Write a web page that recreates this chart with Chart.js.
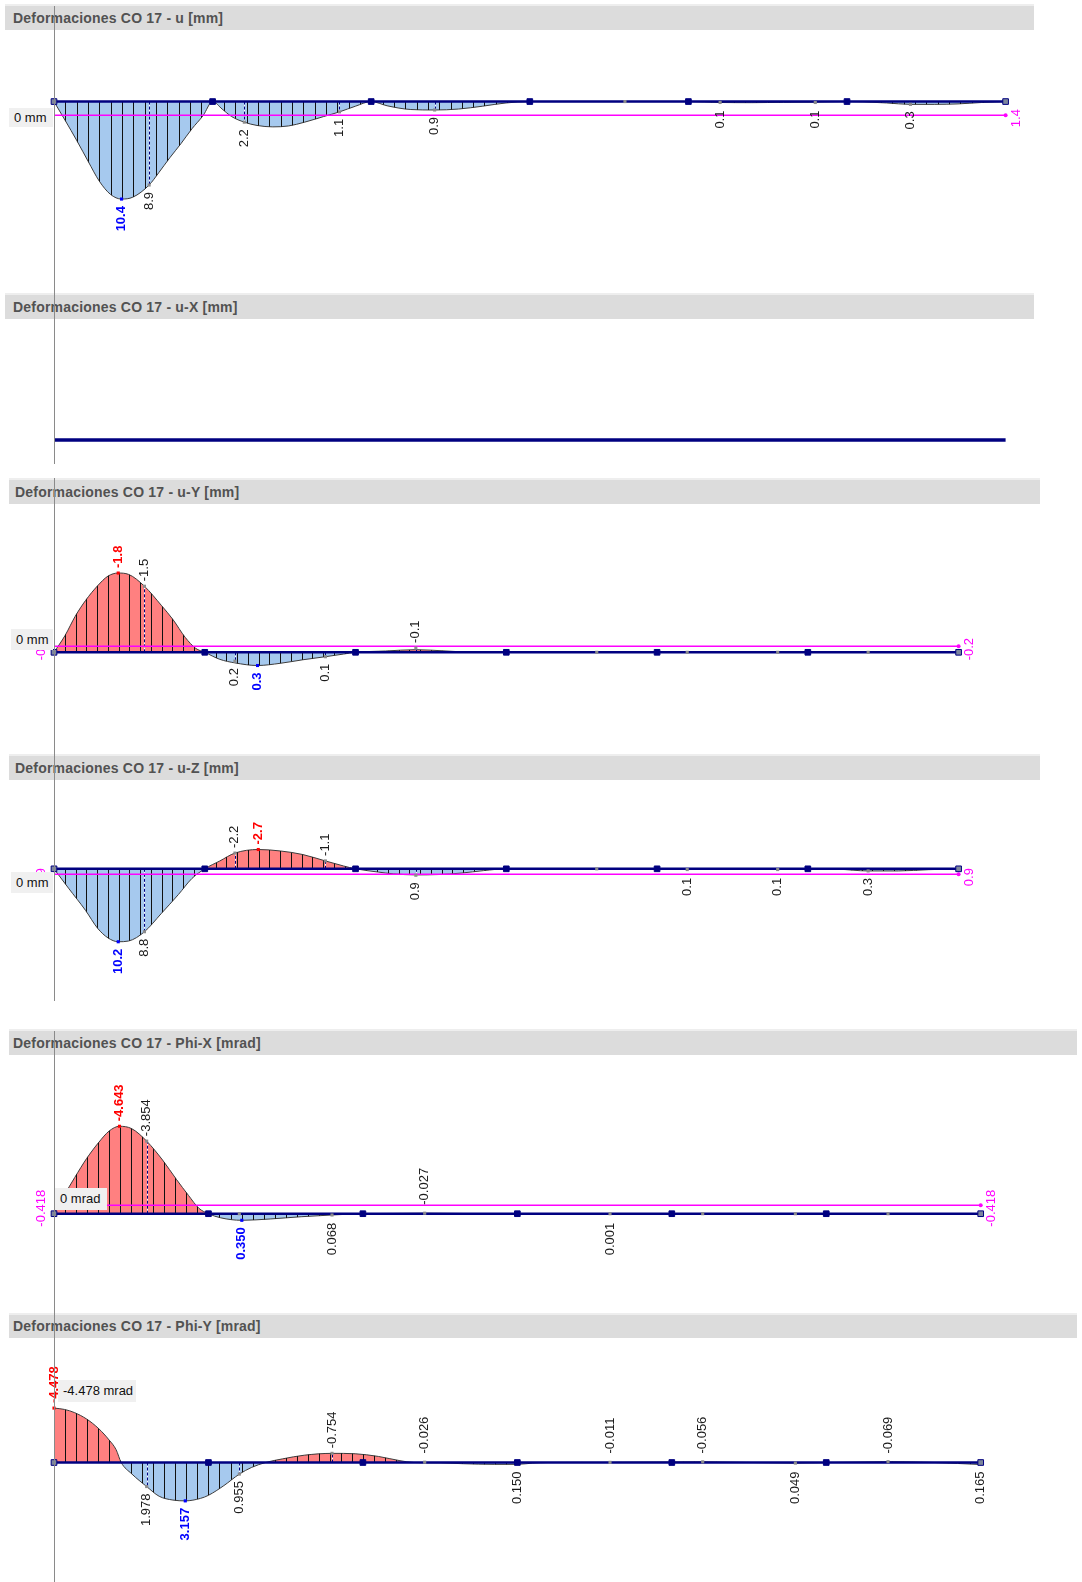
<!DOCTYPE html>
<html>
<head>
<meta charset="utf-8">
<title>Deformaciones CO 17</title>
<script src="https://cdn.jsdelivr.net/npm/chart.js@4.4.1/dist/chart.umd.min.js"></script>
<style>
  html, body { margin: 0; padding: 0; background: #fff; }
  #page { position: relative; width: 1082px; height: 1582px; overflow: hidden; font-family: "Liberation Sans", Arial, sans-serif; }
  .hdr { position: absolute; height: 24px; line-height: 24px; background: #dcdcdc; box-shadow: 0 -2px 0 #eeeeee; color: #525252; font-weight: bold; font-size: 14px; letter-spacing: 0.2px; box-sizing: border-box; white-space: nowrap; }
  .plot { position: absolute; left: 0; }
  .zero { position: absolute; background: #f0f0f0; color: #111; font-size: 13px; padding-left: 5px; box-sizing: border-box; white-space: nowrap; }
  .vline { position: absolute; left: 54px; width: 1px; background: #8a8a8a; }
</style>
</head>
<body>
<div id="page"></div>
<script>
// member nodes and result points (in span units along the beam)
const nodePos = [0, 1, 2, 3, 4, 5, 6];
const resultPos = [0.6, 1.2, 1.8, 2.4, 3.6, 4.2, 4.8, 5.4];

const titles = [
  'Deformaciones CO 17 - u [mm]',
  'Deformaciones CO 17 - u-X [mm]',
  'Deformaciones CO 17 - u-Y [mm]',
  'Deformaciones CO 17 - u-Z [mm]',
  'Deformaciones CO 17 - Phi-X [mrad]',
  'Deformaciones CO 17 - Phi-Y [mrad]'
];
const zeroTexts = ['0 mm', '', '0 mm', '0 mm', '0 mrad', '-4.478 mrad'];
const decimals = [1, 1, 1, 1, 3, 3];

// u [mm]
const uPos = [0, 0.07, 0.145, 0.216, 0.286, 0.356, 0.426, 0.497, 0.6, 0.66, 0.73, 0.8, 0.87, 0.94, 1,
  1.06, 1.12, 1.2, 1.28, 1.38, 1.48, 1.58, 1.7, 1.8, 1.9, 2,
  2.1, 2.25, 2.4, 2.55, 2.7, 2.85, 3,
  4, 4.2, 4.4, 4.6, 4.8, 5,
  5.1, 5.25, 5.4, 5.55, 5.7, 5.85, 6];
const uVal = [0, 2.0, 4.2, 6.4, 8.5, 9.9, 10.4, 10.2, 8.9, 7.6, 6.0, 4.5, 2.9, 1.5, 0,
  0.8, 1.6, 2.2, 2.55, 2.7, 2.6, 2.2, 1.6, 1.1, 0.5, 0,
  0.45, 0.85, 0.9, 0.8, 0.5, 0.15, 0,
  0, 0.1, 0.12, 0.08, 0.06, 0,
  0.03, 0.15, 0.3, 0.3, 0.25, 0.1, 0];
const uLabelPos = [0.426, 0.6, 1.2, 1.8, 2.4, 4.2, 4.8, 5.4];
const uLabelVal = [10.4, 8.9, 2.2, 1.1, 0.9, 0.1, 0.1, 0.3];
const uEnd = 1.4;          // printed end value
const uEndLine = 1.45;     // where the magenta line sits

// u-Y [mm]
const uyPos = [0, 0.073, 0.141, 0.21, 0.289, 0.358, 0.426, 0.494, 0.6, 0.711, 0.79, 0.87, 0.94, 1,
  1.1, 1.2, 1.35, 1.5, 1.65, 1.8, 1.92, 2,
  2.2, 2.4, 2.6, 2.8, 3, 6];
const uyVal = [0, -0.38, -0.82, -1.18, -1.51, -1.73, -1.8, -1.77, -1.5, -1.07, -0.74, -0.34, -0.09, 0,
  0.16, 0.24, 0.3, 0.25, 0.17, 0.1, 0.04, 0,
  -0.03, -0.06, -0.03, 0, 0, 0];
const uyLabelPos = [0.426, 0.6, 1.2, 1.35, 1.8, 2.4];
const uyLabelVal = [-1.8, -1.5, 0.2, 0.3, 0.1, -0.1];
const uyEnd = -0.2;
const uyEndLine = -0.14;

// u-Z [mm]
const uzPos = [0, 0.096, 0.21, 0.289, 0.358, 0.426, 0.494, 0.6, 0.71, 0.825, 0.915, 1,
  1.1, 1.2, 1.355, 1.5, 1.65, 1.8, 1.92, 2,
  2.15, 2.25, 2.4, 2.55, 2.7, 2.85, 3,
  3.6, 4, 4.2, 4.5, 4.8, 5,
  5.2, 5.4, 5.6, 5.8, 6];
const uzVal = [0, 2.7, 5.84, 8.31, 9.66, 10.2, 10.1, 8.8, 6.29, 3.6, 1.35, 0,
  -1.1, -2.2, -2.7, -2.5, -2.0, -1.1, -0.4, 0,
  0.45, 0.7, 0.85, 0.8, 0.6, 0.25, 0,
  0, 0, 0.1, 0.08, 0.1, 0,
  0.05, 0.3, 0.3, 0.12, 0];
const uzLabelPos = [0.426, 0.6, 1.2, 1.355, 1.8, 2.4, 4.2, 4.8, 5.4];
const uzLabelVal = [10.2, 8.8, -2.2, -2.7, -1.1, 0.9, 0.1, 0.1, 0.3];
const uzEnd = 0.9;
const uzEndLine = 0.75;

// Phi-X [mrad]
const pxPos = [0, 0.067, 0.134, 0.212, 0.29, 0.357, 0.424, 0.502, 0.6, 0.703, 0.792, 0.871, 0.938, 1,
  1.08, 1.216, 1.4, 1.6, 1.8, 2,
  2.2, 2.4, 2.6, 2.8, 3, 3.6, 6];
const pxVal = [0, -0.99, -1.92, -2.94, -3.79, -4.39, -4.643, -4.52, -3.854, -2.85, -1.83, -0.97, -0.29, 0,
  0.22, 0.35, 0.28, 0.16, 0.068, 0,
  -0.015, -0.027, -0.015, 0, 0, 0.001, 0];
const pxLabelPos = [0.424, 0.6, 1.216, 1.8, 2.4, 3.6];
const pxLabelVal = [-4.643, -3.854, 0.350, 0.068, -0.027, 0.001];
const pxEnd = -0.418;
const pxEndLine = -0.45;

// Phi-Y [mrad]
const pyPos = [0, 0.067, 0.134, 0.212, 0.29, 0.357, 0.402, 0.435,
  0.502, 0.6, 0.681, 0.77, 0.85, 0.949, 1, 1.1, 1.2, 1.28, 1.37,
  1.48, 1.62, 1.8, 1.95, 2.1, 2.24, 2.33,
  2.5, 2.65, 2.85, 3, 3.1, 3.2,
  3.6, 4.2, 4.8, 5.4, 5.7, 5.85, 6];
const pyVal = [-4.478, -4.37, -4.1, -3.57, -2.78, -1.85, -1.06, 0,
  0.92, 1.978, 2.78, 3.09, 3.157, 2.95, 2.7, 1.9, 0.955, 0.4, 0,
  -0.3, -0.6, -0.754, -0.72, -0.5, -0.15, 0,
  0.03, 0.1, 0.15, 0.15, 0.05, 0,
  -0.011, -0.056, 0.049, -0.069, 0, 0.08, 0.165];
const pyLabelPos = [0, 0.6, 0.85, 1.2, 1.8, 2.4, 3, 3.6, 4.2, 4.8, 5.4, 6];
const pyLabelVal = [-4.478, 1.978, 3.157, 0.955, -0.754, -0.026, 0.150, -0.011, -0.056, 0.049, -0.069, 0.165];

const panels = [
  { pos: uPos, val: uVal, labPos: uLabelPos, labVal: uLabelVal, end: uEnd, endLine: uEndLine },
  { pos: [], val: [], labPos: [], labVal: [], end: null, endLine: null },
  { pos: uyPos, val: uyVal, labPos: uyLabelPos, labVal: uyLabelVal, end: uyEnd, endLine: uyEndLine },
  { pos: uzPos, val: uzVal, labPos: uzLabelPos, labVal: uzLabelVal, end: uzEnd, endLine: uzEndLine },
  { pos: pxPos, val: pxVal, labPos: pxLabelPos, labVal: pxLabelVal, end: pxEnd, endLine: pxEndLine },
  { pos: pyPos, val: pyVal, labPos: pyLabelPos, labVal: pyLabelVal, end: null, endLine: null }
];

// page layout (pixels): hdr = [left, top, width, height, text x]
const layout = [
  { top: 0, h: 290, beam: 100, end: 1005.6, ppu: 9.71, hdr: [5, 6, 1029, 24, 13], box: [9, 108, 44, 19] },
  { top: 290, h: 180, beam: 440, end: 1005.6, ppu: 10, hdr: [5, 295, 1029, 24, 13], box: null },
  { top: 470, h: 275, beam: 654, end: 958.6, ppu: 45.7, hdr: [9, 480, 1031, 24, 15], box: [11, 629, 42, 21] },
  { top: 745, h: 275, beam: 868.3, end: 958.6, ppu: 7.42, hdr: [9, 756, 1031, 24, 15], box: [11, 872, 42, 21] },
  { top: 1020, h: 280, beam: 1215.7, end: 980.7, ppu: 19.53, hdr: [9, 1031, 1068, 24, 13], box: [55, 1188, 52, 22] },
  { top: 1300, h: 282, beam: 1463.3, end: 980.7, ppu: 12.6, hdr: [9, 1315, 1068, 23, 13], box: [58, 1380, 78, 22] }
];
const vlines = [[6, 464], [478, 1001], [1031, 1582]];

const RED = '#ff8080';
const BLUE = '#a6c9ee';
const NAVY = '#000080';
const MAGENTA = '#ff00ff';
const FONT = '"Liberation Sans", Arial, sans-serif';

const page = document.getElementById('page');

function isExtreme(p, v) {
  const vmax = Math.max(...p.labVal), vmin = Math.min(...p.labVal);
  if (v > 0 && v === vmax) return 'max';
  if (v < 0 && v === vmin) return 'min';
  return '';
}

function vertText(ctx, text, x, y, align) {
  ctx.save();
  ctx.translate(x, y);
  ctx.rotate(-Math.PI / 2);
  ctx.textAlign = align;
  ctx.textBaseline = 'middle';
  ctx.fillText(text, 0, 0);
  ctx.restore();
}

function buildPanel(i) {
  const p = panels[i], L = layout[i], dec = decimals[i];
  const canvas = document.createElement('canvas');
  canvas.width = 1082;
  canvas.height = L.h;
  canvas.className = 'plot';
  canvas.style.top = L.top + 'px';
  canvas.style.width = '1082px';
  canvas.style.height = L.h + 'px';
  page.appendChild(canvas);

  const yMin = -(L.beam - L.top) / L.ppu;
  const yMax = (L.top + L.h - L.beam) / L.ppu;

  const datasets = [];
  if (p.pos.length) {
    datasets.push({
      diagram: true,
      data: p.pos.map((x, k) => ({ x: x, y: p.val[k] })),
      borderColor: '#3c3c3c',
      borderWidth: 1,
      fill: { target: 'origin', above: RED, below: BLUE },
      cubicInterpolationMode: 'monotone',
      pointRadius: 0,
      clip: false,
      order: 10
    });
  }
  if (p.endLine !== null) {
    datasets.push({
      data: [{ x: 0, y: p.endLine }, { x: 6, y: p.endLine }],
      borderColor: MAGENTA,
      borderWidth: 1.5,
      pointRadius: [0, 2],
      pointStyle: 'circle',
      pointBackgroundColor: MAGENTA,
      pointBorderWidth: 0,
      clip: false,
      order: 5
    });
  }
  const plain = i === 1;
  datasets.push({
    data: nodePos.map(x => ({ x: x, y: 0 })),
    borderColor: NAVY,
    borderWidth: plain ? 3.3 : 2.5,
    pointStyle: 'rect',
    pointRadius: plain ? 0 : 4,
    pointBackgroundColor: nodePos.map((x, k) => (k === 0 || k === nodePos.length - 1) ? '#7d869c' : NAVY),
    pointBorderColor: NAVY,
    pointBorderWidth: 1,
    clip: false,
    order: 2
  });
  if (!plain) {
    const dots = [], colors = [];
    resultPos.forEach(u => {
      const k = p.labPos.indexOf(u);
      const v = k >= 0 ? p.labVal[k] : 0;
      if (k >= 0 && isExtreme(p, v)) return;
      dots.push({ x: u, y: v });
      colors.push('#8c8c8c');
    });
    p.labPos.forEach((u, k) => {
      const ex = isExtreme(p, p.labVal[k]);
      if (ex) {
        dots.push({ x: u, y: p.labVal[k] });
        colors.push(ex === 'max' ? '#0000ff' : '#ff0000');
      }
    });
    datasets.push({
      data: dots,
      showLine: false,
      pointStyle: 'rect',
      pointRadius: 2.2,
      pointBackgroundColor: colors,
      pointBorderWidth: 0,
      clip: false,
      order: 1
    });
  }

  const hatchPlugin = {
    id: 'hatch' + i,
    afterDatasetDraw(chart, args) {
      if (!chart.data.datasets[args.index].diagram) return;
      const ctx = chart.ctx, xs = chart.scales.x, ys = chart.scales.y;
      const line = args.meta.dataset, pts = args.meta.data;
      const y0 = ys.getPixelForValue(0);
      const area = chart.chartArea;
      ctx.save();
      ctx.beginPath();
      line.path(ctx);
      ctx.lineTo(pts[pts.length - 1].x, y0);
      ctx.lineTo(pts[0].x, y0);
      ctx.closePath();
      ctx.clip();
      ctx.strokeStyle = '#111';
      ctx.lineWidth = 1;
      ctx.beginPath();
      for (let k = 1; k < 6 * 14; k++) {
        const px = Math.round(xs.getPixelForValue(k / 14)) + 0.5;
        ctx.moveTo(px, 0);
        ctx.lineTo(px, area.bottom);
      }
      ctx.stroke();
      ctx.restore();

      // dashed markers at result points
      p.labPos.forEach((u, k) => {
        const v = p.labVal[k];
        if (isExtreme(p, v)) return;
        const px = Math.round(xs.getPixelForValue(u)) + 0.5;
        const py = ys.getPixelForValue(v);
        if (Math.abs(py - y0) < 4) return;
        ctx.save();
        ctx.lineWidth = 1;
        ctx.strokeStyle = '#ffffff';
        ctx.beginPath(); ctx.moveTo(px, y0); ctx.lineTo(px, py); ctx.stroke();
        ctx.strokeStyle = NAVY;
        ctx.setLineDash([3, 2]);
        ctx.beginPath(); ctx.moveTo(px, y0); ctx.lineTo(px, py); ctx.stroke();
        ctx.restore();
      });
    }
  };

  const labelPlugin = {
    id: 'labels' + i,
    afterDatasetsDraw(chart) {
      const ctx = chart.ctx, xs = chart.scales.x, ys = chart.scales.y;
      const by = ys.getPixelForValue(0);
      p.labPos.forEach((u, k) => {
        const v = p.labVal[k];
        const px = xs.getPixelForValue(u), py = ys.getPixelForValue(v);
        const ex = isExtreme(p, v);
        ctx.fillStyle = ex === 'max' ? '#0000ff' : ex === 'min' ? '#ff0000' : '#1a1a1a';
        ctx.font = (ex ? 'bold ' : '') + '13px ' + FONT;
        const txt = v.toFixed(dec);
        if (v < 0) {
          vertText(ctx, txt, px, Math.min(py - 5, by - 9), 'left');
        } else {
          vertText(ctx, txt, px, Math.max(py + 7, by + 9), 'right');
        }
      });
      if (p.end !== null) {
        const my = ys.getPixelForValue(p.endLine) + 3;
        ctx.fillStyle = MAGENTA;
        ctx.font = '13px ' + FONT;
        const txt = p.end.toFixed(dec);
        vertText(ctx, txt, xs.getPixelForValue(6) + 11, my, 'center');
        vertText(ctx, txt, 41, my, 'center');
      }
    }
  };

  new Chart(canvas, {
    type: 'line',
    data: { datasets: datasets },
    options: {
      responsive: false,
      animation: false,
      events: [],
      layout: { padding: { left: 54, right: 1082 - L.end, top: 0, bottom: 0 } },
      scales: {
        x: { type: 'linear', min: 0, max: 6, display: false },
        y: { type: 'linear', min: yMin, max: yMax, reverse: true, display: false }
      },
      plugins: { legend: { display: false }, tooltip: { enabled: false } }
    },
    plugins: [hatchPlugin, labelPlugin]
  });
}

// headers
layout.forEach((L, i) => {
  const d = document.createElement('div');
  d.className = 'hdr';
  d.style.left = L.hdr[0] + 'px';
  d.style.top = L.hdr[1] + 'px';
  d.style.width = L.hdr[2] + 'px';
  d.style.height = L.hdr[3] + 'px';
  d.style.lineHeight = L.hdr[3] + 'px';
  d.style.paddingLeft = (L.hdr[4] - L.hdr[0]) + 'px';
  d.textContent = titles[i];
  page.appendChild(d);
});

// charts
panels.forEach((p, i) => buildPanel(i));

// zero boxes
layout.forEach((L, i) => {
  if (!L.box) return;
  const b = document.createElement('div');
  b.className = 'zero';
  b.style.left = L.box[0] + 'px';
  b.style.top = L.box[1] + 'px';
  b.style.width = L.box[2] + 'px';
  b.style.height = L.box[3] + 'px';
  b.style.lineHeight = L.box[3] + 'px';
  b.textContent = zeroTexts[i];
  page.appendChild(b);
});

// reference line at the member start
vlines.forEach(v => {
  const l = document.createElement('div');
  l.className = 'vline';
  l.style.top = v[0] + 'px';
  l.style.height = (v[1] - v[0]) + 'px';
  page.appendChild(l);
});
</script>
</body>
</html>
